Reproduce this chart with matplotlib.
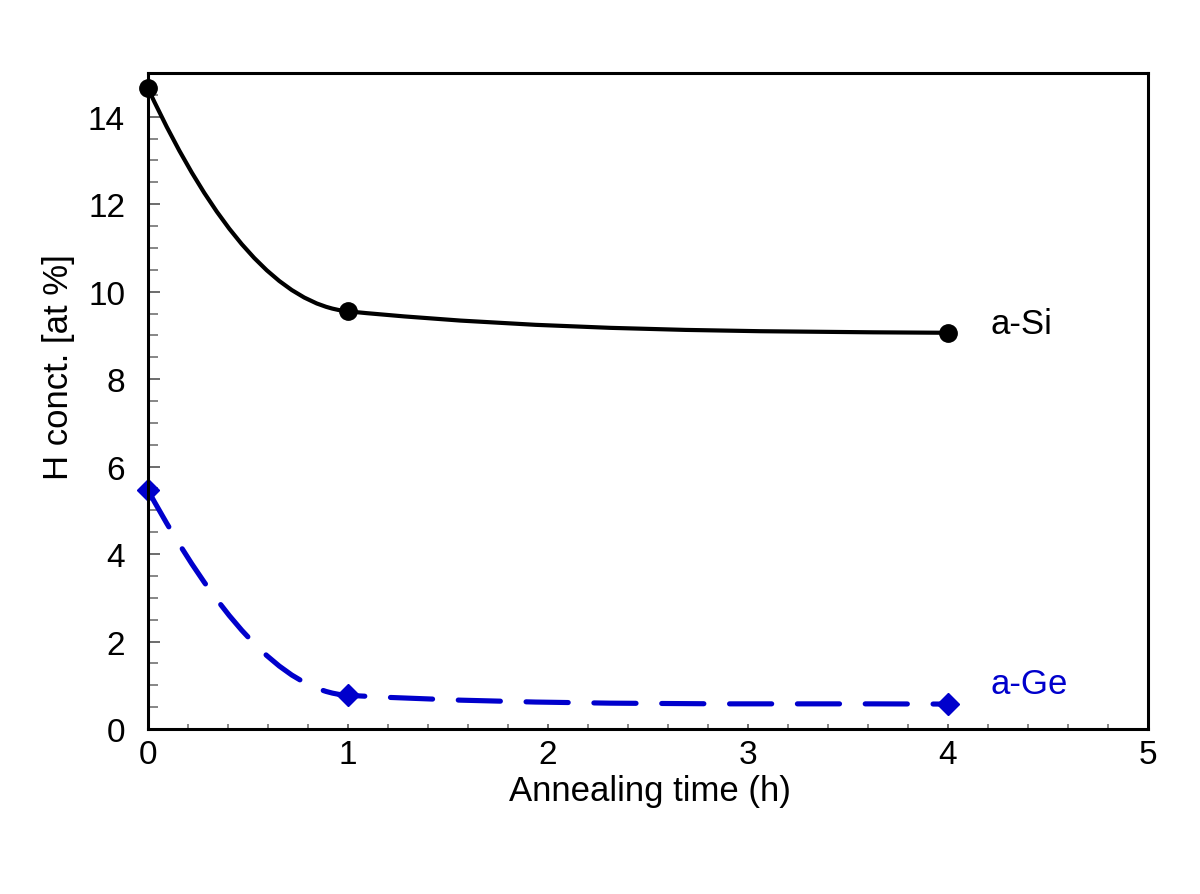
import matplotlib
matplotlib.use("Agg")
import matplotlib.pyplot as plt
from matplotlib.path import Path
from matplotlib.patches import PathPatch
from matplotlib.ticker import MultipleLocator

# ---- data ----
time_h = [0, 1, 4]
si_conc = [14.65, 9.55, 9.06]
ge_conc = [5.46, 0.77, 0.57]
# tangent slopes used for the smoothed curves
si_slopes = [-9.85, -0.45, -0.03]
ge_slopes = [-8.35, -0.25, -0.02]

x_ticks = [0, 1, 2, 3, 4, 5]
y_ticks = [0, 2, 4, 6, 8, 10, 12, 14]
series_labels = ["a-Si", "a-Ge"]

plt.rcParams['font.family'] = ['Liberation Sans', 'DejaVu Sans']

fig = plt.figure(figsize=(12, 8.95), dpi=100)
ax = fig.add_axes([148/1200, 165/895, 1000/1200, 656/895])


def smooth_path(xs, ys, ms):
    verts = [(xs[0], ys[0])]
    codes = [Path.MOVETO]
    for i in range(len(xs) - 1):
        h = xs[i + 1] - xs[i]
        verts += [(xs[i] + h / 3, ys[i] + ms[i] * h / 3),
                  (xs[i + 1] - h / 3, ys[i + 1] - ms[i + 1] * h / 3),
                  (xs[i + 1], ys[i + 1])]
        codes += [Path.CURVE4] * 3
    return Path(verts, codes)


blue = '#0000cc'

si_patch = PathPatch(smooth_path(time_h, si_conc, si_slopes), facecolor='none',
                     edgecolor='black', linewidth=3.0, zorder=3)
si_patch.set_capstyle('round')
si_patch.set_joinstyle('round')
ax.add_patch(si_patch)

ge_patch = PathPatch(smooth_path(time_h, ge_conc, ge_slopes), facecolor='none',
                     edgecolor=blue, linewidth=3.7, linestyle=(0, (8.2, 5)), zorder=3)
ge_patch.set_capstyle('round')
ge_patch.set_joinstyle('round')
ax.add_patch(ge_patch)

ax.plot(time_h, si_conc, linestyle='none', marker='o', markersize=12.5,
        color='black', zorder=5, clip_on=False)
ax.plot(time_h, ge_conc, linestyle='none', marker='D', markersize=11.5,
        color=blue, zorder=5, clip_on=False)

ax.text(4.21, 9.06, series_labels[0], fontsize=25, color='black',
        ha='left', va='baseline')
ax.text(4.21, 0.82, series_labels[1], fontsize=25, color=blue,
        ha='left', va='baseline')

ax.set_xlim(0, 5)
ax.set_ylim(0, 15)
ax.set_xticks(x_ticks)
ax.set_yticks(y_ticks)
ax.xaxis.set_minor_locator(MultipleLocator(0.2))
ax.yaxis.set_minor_locator(MultipleLocator(0.5))

ax.tick_params(axis='both', which='both', direction='in', top=False, right=False,
               labelsize=24, labelcolor='black')
ax.tick_params(axis='x', which='major', length=3.6, width=1.1, color='#444444', pad=7.5)
ax.tick_params(axis='x', which='minor', length=3.6, width=1.1, color='#666666')
ax.tick_params(axis='y', which='major', length=8.6, width=1.1, color='#444444', pad=16.5)
ax.tick_params(axis='y', which='minor', length=7.2, width=1.1, color='#666666')

for s in ax.spines.values():
    s.set_linewidth(2.2)
    s.set_color('black')
    s.set_zorder(6)

ax.set_xlabel("Annealing time (h)", fontsize=25)
ax.set_ylabel("H conct. [at %]", fontsize=25)
ax.xaxis.set_label_coords(0.502, (730 - 775) / 656)
ax.yaxis.set_label_coords((75 - 148) / 1000, (730 - 367) / 656)

fig.savefig("out.png", dpi=100)
